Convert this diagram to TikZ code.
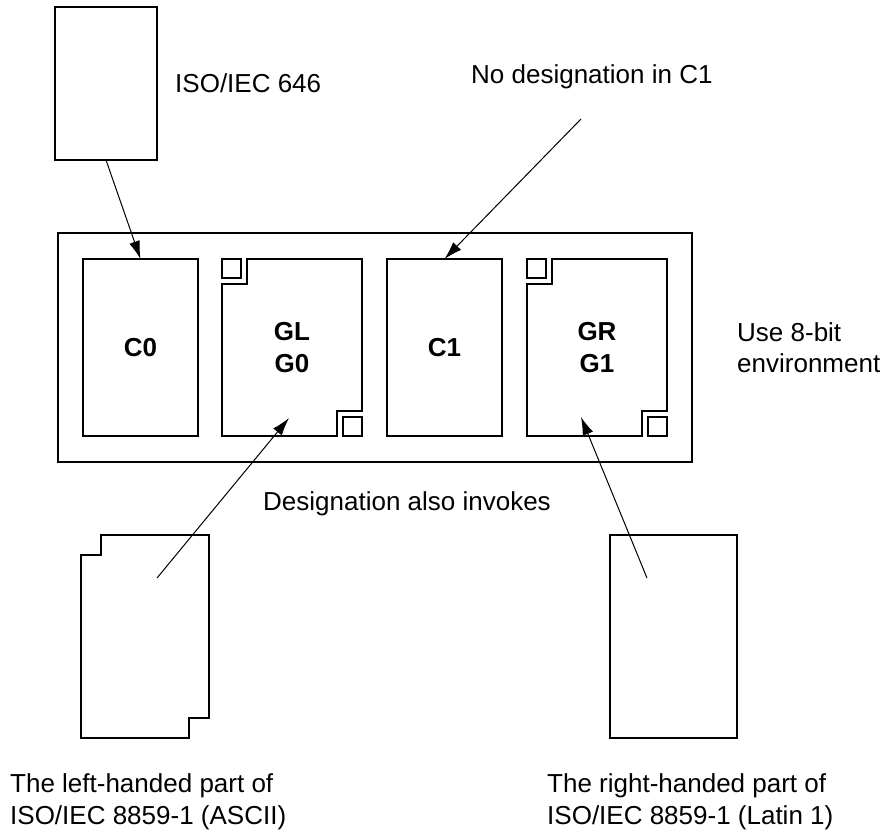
\documentclass[tikz,border=0pt]{standalone}
\usepackage{fontspec}
\setmainfont{Liberation Sans}
\usetikzlibrary{arrows.meta}
\newcommand{\grossschrift}{\fontsize{26}{31.5}\selectfont}
\tikzset{
  box/.style={draw, line width=2pt, rectangle, inner sep=0pt, outer sep=0pt},
  slot/.style={rectangle, inner sep=0pt, outer sep=0pt, minimum width=#1, minimum height=177pt, font=\grossschrift\bfseries, align=center},
  pointer/.style={draw, line width=1pt, -{Latex[length=18pt,width=11pt]}},
  label/.style={inner sep=0pt, align=left}
}
% Feld mit Ecken-Kerben (Name, Kerbe)
\newcommand{\kerbfeld}[2]{%
  \draw[line width=2pt] ([xshift=#2]#1.north west) -- (#1.north east) -- ([yshift=#2]#1.south east)
    -- ([xshift=-#2,yshift=#2]#1.south east) -- ([xshift=-#2]#1.south east) -- (#1.south west)
    -- ([yshift=-#2]#1.north west) -- ([xshift=#2,yshift=-#2]#1.north west) -- cycle;}
% kleine Quadrate in den Kerben
\newcommand{\kerbquadrat}[1]{%
  \draw[line width=2pt] (#1.north west) rectangle ([xshift=19pt,yshift=-19pt]#1.north west);
  \draw[line width=2pt] ([xshift=-19pt,yshift=19pt]#1.south east) rectangle (#1.south east);}

\begin{document}
\begin{tikzpicture}[x=1pt, y=-1pt, font=\grossschrift]
  \useasboundingbox (0,0) rectangle (885,831); % Bildbereich
  % Zeichensatz oben
  \node[box, minimum width=102pt, minimum height=153pt] (iso646) at (106,83.5) {};
  \node[label, anchor=base west] (isolabel) at (175,92) {ISO/IEC 646};
  % 8-Bit-Umgebung
  \node[box, minimum width=634pt, minimum height=229pt] (outer) at (375,347.5) {};
  \node[box, slot=115pt] (c0) at (140.5,347.5) {C0};
  \node[slot=140pt] (gl) at (292,347.5) {GL\\G0};
  \node[box, slot=115pt] (c1) at (444.5,347.5) {C1};
  \node[slot=140pt] (gr) at (597,347.5) {GR\\G1};
  \kerbfeld{gl}{25pt}
  \kerbfeld{gr}{25pt}
  \kerbquadrat{gl}
  \kerbquadrat{gr}
  \node[label, anchor=west] (envlabel) at (737,347.5) {Use 8-bit\\environment};
  % Beschriftung
  \node[label, anchor=base west] (c1label) at (471,83) {No designation in C1};
  \node[label, anchor=base west] (invlabel) at (263,510) {Designation also invokes};
  % Zeichensaetze unten
  \node[rectangle, inner sep=0pt, minimum width=128pt, minimum height=203pt] (ascii) at (145,636.5) {};
  \kerbfeld{ascii}{20pt}
  \node[box, minimum width=127pt, minimum height=203pt] (latin) at (673.5,636.5) {};
  \node[label, anchor=west] (asciilabel) at (10,802) {The left-handed part of\\ISO/IEC 8859-1 (ASCII)};
  \node[label, anchor=west] (latinlabel) at (547,802) {The right-handed part of\\ISO/IEC 8859-1 (Latin 1)};
  % Pfeile
  \coordinate (c1tail) at (581,119);
  \coordinate (asciitail) at (157,578);
  \coordinate (glhead) at (289,418);
  \coordinate (latintail) at (647,578);
  \coordinate (grhead) at (581,417);
  \draw[pointer] (iso646.south) -- (c0.north);
  \draw[pointer] (c1tail) -- (c1.north);
  \draw[pointer] (asciitail) -- (glhead);
  \draw[pointer] (latintail) -- (grhead);
\end{tikzpicture}
\end{document}
